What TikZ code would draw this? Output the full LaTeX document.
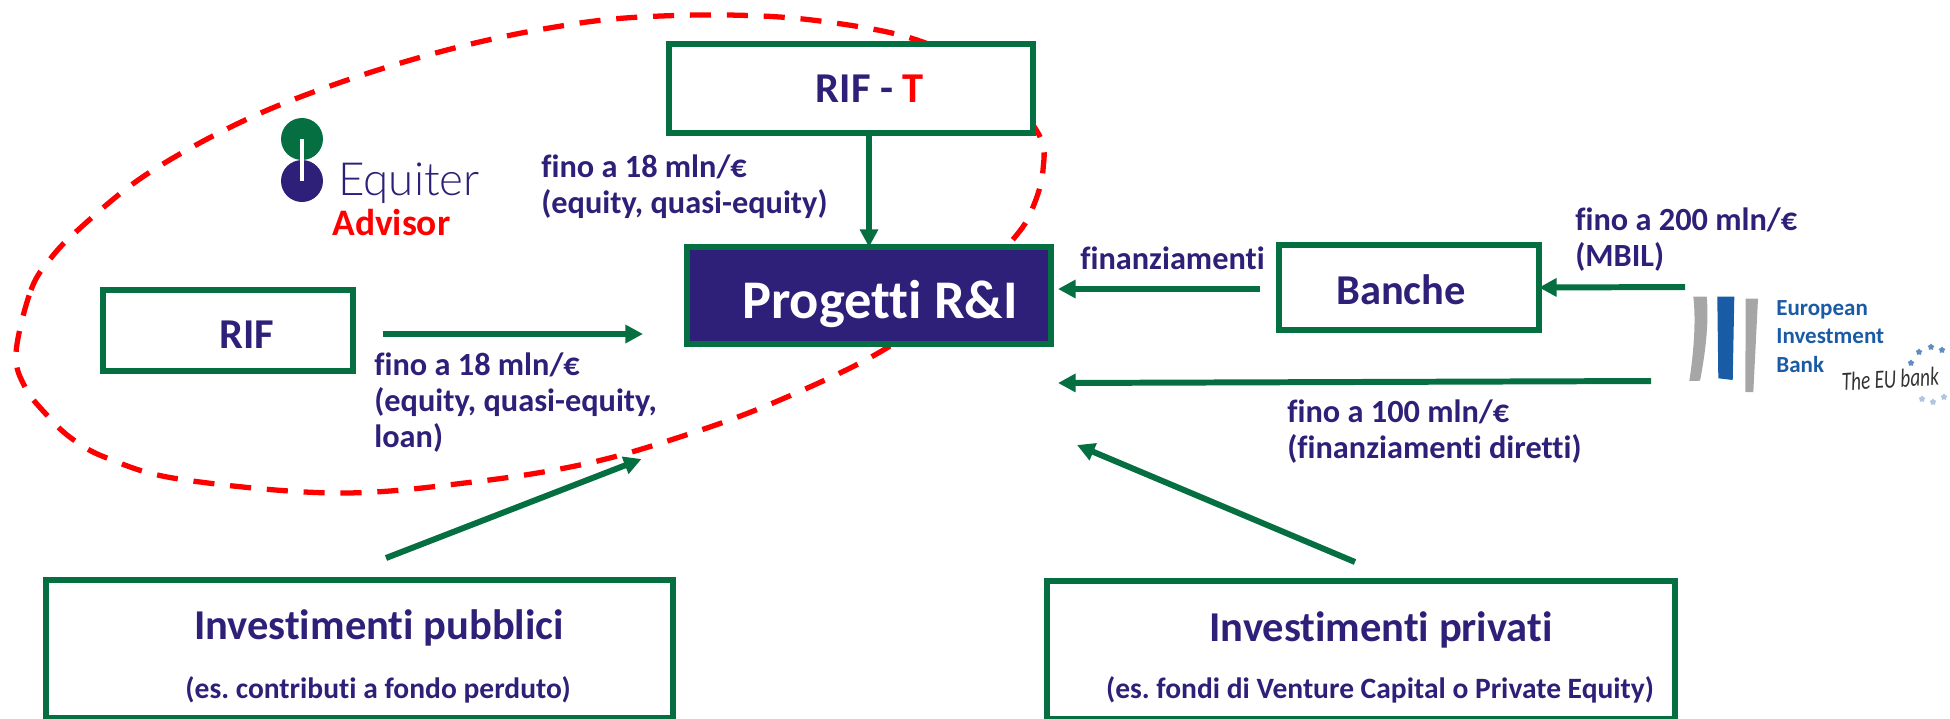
\documentclass[tikz,border=0pt]{standalone}
\usepackage{fontspec}
\setmainfont{Carlito}[Ligatures=NoCommon]
\newfontfamily\equiterfont{Lato Light}
\usetikzlibrary{arrows.meta,shapes.geometric}
\definecolor{rifgreen}{HTML}{056F41}
\definecolor{rifnavy}{HTML}{2E2078}
\definecolor{eibblue}{HTML}{1A5BA6}
\definecolor{eibgrey}{HTML}{A6A6A6}
\frenchspacing
\begin{document}
\begin{tikzpicture}[x=0.02cm,y=-0.02cm,
    box/.style = {rectangle,draw=rifgreen,fill=white,line width=3.4pt,inner sep=0pt,outer sep=0pt},
    boxtext/.style = {anchor=base,inner sep=0pt,text=rifnavy,font=\bfseries\fontsize{24.2}{28}\selectfont},
    note/.style = {anchor=base west,inner sep=0pt,align=left,text=rifnavy,font=\bfseries\fontsize{18.4}{20.4}\selectfont},
    smallnote/.style = {anchor=base,inner sep=0pt,text=rifnavy,font=\bfseries\fontsize{16.8}{20}\selectfont},
    flow/.style = {draw=rifgreen,line width=3.4pt,-{Triangle[length=10pt,width=10pt]}},
    ring/.style = {draw=red,line width=3pt,dash pattern=on 12pt off 9pt},
    dot/.style = {circle,minimum size=0.84cm,inner sep=0pt},
    eibtext/.style = {anchor=base west,inner sep=0pt,text=eibblue,font=\bfseries\fontsize{13.1}{16}\selectfont},
    eustar/.style = {star,star points=5,fill=#1,minimum size=4pt,inner sep=0pt}]
\useasboundingbox (0,0) rectangle (1950,718);

\draw[ring] plot[smooth cycle,tension=0.6] coordinates {(16,353) (31,290) (51,258) (78,230) (134,183) (196,145) (263,112)
    (333,85) (404,62) (475,43) (549,28) (625,18) (727,15) (820,21) (917,40) (990,78) (1038,133) (1043,170) (1033,207) (1015,237)
    (960,295) (880,352) (780,400) (692,433) (589,463) (473,482) (335,493) (179,479) (107,458) (71,438) (45,413) (25,387)};

% boxes
\node[box,minimum width=7.28cm,minimum height=1.78cm] (rift) at (851,88.5) {};
\node[box,fill=rifnavy,minimum width=7.28cm,minimum height=1.94cm] (progetti) at (869,295.5) {};
\node[box,minimum width=5cm,minimum height=1.62cm] (rif) at (228,330.5) {};
\node[box,minimum width=5.2cm,minimum height=1.7cm] (banche) at (1409,287.5) {};
\node[box,minimum width=12.54cm,minimum height=2.76cm] (pubblici) at (359.5,649) {};
\node[box,minimum width=12.58cm,minimum height=2.76cm] (privati) at (1361,650) {};

\node[boxtext] (riftext) at (870,102) {RIF - \textcolor{red}{T}};
\node[boxtext,text=white,font=\bfseries\fontsize{31}{34}\selectfont] (progettitext) at (880,318) {Progetti R\&I};
\node[boxtext] (riftitle) at (247,348) {RIF};
\node[boxtext] (banchetext) at (1401,304) {Banche};
\node[boxtext] (pubblicitext) at (379,639) {Investimenti pubblici};
\node[smallnote] (pubbliciex) at (378,698) {(es. contributi a fondo perduto)};
\node[boxtext] (privatitext) at (1381,641) {Investimenti privati};
\node[smallnote] (privatiex) at (1380,698) {(es. fondi di Venture Capital o Private Equity)};

% labels
\node[note] (riftnote) at (541,213) {fino a 18 mln/€\\(equity, quasi-equity)};
\node[note] (rifnote) at (374,447) {fino a 18 mln/€\\(equity, quasi-equity,\\loan)};
\node[note] (banchenote) at (1080,269) {finanziamenti};
\node[note] (mbilnote) at (1575,266) {fino a 200 mln/€\\(MBIL)};
\node[note] (direttinote) at (1287,458) {fino a 100 mln/€\\(finanziamenti diretti)};

% free ends of the arrows
\coordinate (rifout) at (383,334);
\coordinate (rifin) at (643,334);
\coordinate (bancheout) at (1260,289);
\coordinate (bancheprog) at (1058,289);
\coordinate (eibout) at (1685,287);
\coordinate (eibdirect) at (1651,381);
\coordinate (directin) at (1058,383);
\coordinate (pubout) at (386,558);
\coordinate (pubin) at (641.5,459);
\coordinate (privout) at (1355,562);
\coordinate (privin) at (1077,445);

\draw[flow] (rift.south -| progetti.north) -- (progetti.north);
\draw[flow] (rifout) -- (rifin);
\draw[flow] (bancheout) -- (bancheprog);
\draw[flow] (eibout) -- (banche.east);
\draw[flow] (eibdirect) -- (directin);
\draw[flow] (pubout) -- (pubin);
\draw[flow] (privout) -- (privin);

% Equiter
\node[dot,fill=rifgreen] (eqgreen) at (302,139) {};
\node[dot,fill=rifnavy] (eqnavy) at (302,181) {};
\draw[white,line width=2.4pt] (eqgreen.center) -- (eqnavy.center);
\node[anchor=base west,inner sep=0pt,text=rifnavy,font=\equiterfont\fontsize{26}{28}\selectfont] (equiter) at (338,195) {Equiter};
\node[anchor=base west,inner sep=0pt,text=red,font=\bfseries\fontsize{21.3}{24}\selectfont] (advisor) at (332,235) {Advisor};

% EIB
\fill[eibgrey] (1693.3,296.7) -- (1706.7,296.7) .. controls (1709,320) and (1706,350) .. (1700,380.7) -- (1689.3,381) .. controls (1694,350) and (1696,320) .. cycle;
\fill[eibblue] (1717.3,296.7) -- (1734.3,296.7) -- (1732.7,380) -- (1718.3,378.3) -- cycle;
\fill[eibgrey] (1745.7,298.7) -- (1758,298.7) -- (1753.3,392) -- (1745.3,392) -- cycle;
\node[eibtext] (eibone) at (1776,315) {European};
\node[eibtext] (eibtwo) at (1776,343) {Investment};
\node[eibtext] (eibthree) at (1776,372) {Bank};
\node[anchor=base west,inner sep=0pt,rotate=3.5,text=black!80,font=\itshape\fontsize{13}{16}\selectfont] (eubank) at (1842,391) {\scalebox{.84}[1.15]{The EU bank}};
\foreach \x/\y in {1919/352, 1931/347, 1942/350, 1911/363}
    \node[eustar=eibblue!70] at (\x,\y) {};
\foreach \x/\y in {1922/399, 1933/402, 1944/397}
    \node[eustar=eibblue!35] at (\x,\y) {};
\end{tikzpicture}
\end{document}
